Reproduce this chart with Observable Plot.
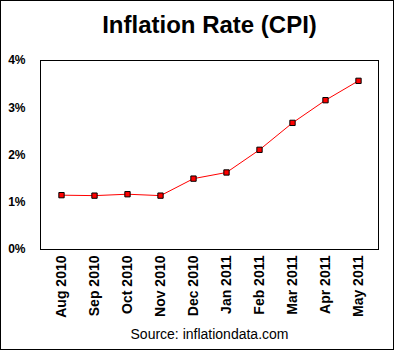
<!DOCTYPE html>
<html>
<head>
<meta charset="utf-8">
<script src="https://cdn.jsdelivr.net/npm/d3@7"></script>
<script src="https://cdn.jsdelivr.net/npm/@observablehq/plot@0.6"></script>
<style>
  html, body { margin: 0; padding: 0; background: #fff; }
  #wrap { position: relative; width: 396px; height: 351px; }
  #border { position: absolute; left: 0; top: 0; width: 392px; height: 348px; border: 1px solid #000; pointer-events: none; }
  #chart { position: absolute; left: 0; top: 0; }
</style>
</head>
<body>
<div id="wrap"><div id="chart"></div><div id="border"></div></div>
<script>
const months = ["Aug 2010", "Sep 2010", "Oct 2010", "Nov 2010", "Dec 2010", "Jan 2011", "Feb 2011", "Mar 2011", "Apr 2011", "May 2011"];
const rates = [1.15, 1.14, 1.17, 1.14, 1.50, 1.63, 2.11, 2.68, 3.16, 3.57];
const yTicks = [0, 1, 2, 3, 4];
const titleText = "Inflation Rate (CPI)";
const sourceText = "Source: inflationdata.com";

const data = months.map((m, i) => ({month: m, rate: rates[i]}));

const chart = Plot.plot({
  width: 396,
  height: 351,
  marginLeft: 40,
  marginTop: 60,
  marginRight: 18,
  marginBottom: 102,
  style: {fontFamily: "'Liberation Sans', Arial, sans-serif", background: "transparent", overflow: "visible"},
  x: {type: "point", domain: months, padding: 0.5, label: null},
  y: {domain: [0, 4], label: null},
  marks: [
    Plot.frame({stroke: "#000", strokeWidth: 1}),
    Plot.axisY({ticks: yTicks, tickFormat: d => d + "%", tickSize: 0, tickPadding: 15, fontSize: 12, fontWeight: "bold", fill: "#000", label: null}),
    Plot.axisX({tickRotate: -90, tickSize: 0, tickPadding: 6, fontSize: 14, fontWeight: "bold", fill: "#000", label: null}),
    Plot.line(data, {x: "month", y: "rate", stroke: "#ff0000", strokeWidth: 1}),
    Plot.dot(data, {x: "month", y: "rate", symbol: "square", r: 3, fill: "#ff0000", stroke: "#000", strokeWidth: 1}),
    Plot.text([titleText], {frameAnchor: "top", lineAnchor: "middle", dy: -35, text: d => d, fontSize: 24, fontWeight: "bold", fill: "#000"}),
    Plot.text([sourceText], {frameAnchor: "bottom", lineAnchor: "middle", dy: 85, text: d => d, fontSize: 14, fill: "#000"})
  ]
});
document.getElementById("chart").appendChild(chart);
</script>
</body>
</html>
